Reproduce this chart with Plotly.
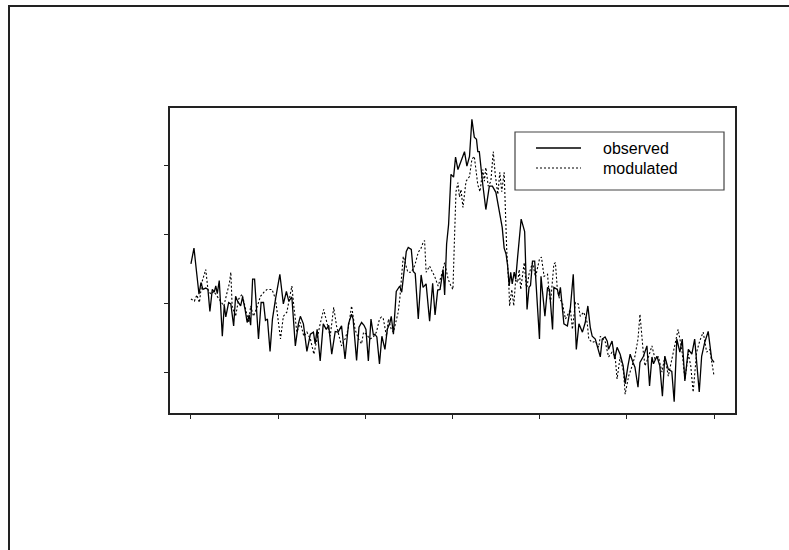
import plotly.graph_objects as go

# ---- data ----
x_obs = [0.0, 1.4, 2.7, 3.7, 4.6, 5.5, 6.8, 7.8, 8.7, 9.8, 10.7, 11.4, 12.1, 13.0, 14.4, 15.3, 16.0, 17.3, 18.3, 19.6,
         20.5, 21.4, 22.8, 23.7, 24.9, 25.8, 26.7, 27.4, 28.3, 29.2, 29.9, 31.0, 32.2, 33.3, 34.2, 35.1, 36.3, 37.4, 38.8, 39.7,
         40.8, 42.4, 43.8, 44.9, 46.3, 47.9, 49.3, 50.2, 51.6, 53.2, 54.8, 56.2, 57.0, 57.9, 59.3, 60.7, 62.1, 63.2, 64.6, 66.2,
         67.5, 69.1, 70.7, 72.3, 73.7, 74.4, 76.0, 77.1, 78.3, 79.4, 80.3, 81.4, 82.6, 83.7, 84.4, 85.3, 86.5, 87.6, 89.0, 90.1,
         91.3, 91.9, 92.9, 94.2, 95.8, 96.7, 97.6, 98.8, 99.7, 101.1, 102.0, 102.9, 104.3, 105.6, 106.5, 107.9, 109.5, 110.9, 112.0, 113.2,
         114.3, 115.7, 116.4, 117.3, 118.2, 119.3, 120.5, 121.4, 122.5, 123.9, 125.5, 126.6, 127.8, 128.9, 130.0, 131.0, 131.6, 132.3, 133.2, 133.9,
         135.3, 136.9, 138.3, 139.9, 141.5, 142.8, 143.7, 144.6, 145.3, 146.0, 146.7, 147.4, 148.3, 149.0, 149.9, 150.8, 151.5, 152.4, 153.1, 154.2,
         155.1, 155.8, 156.7, 157.7, 158.3, 159.0, 159.9, 160.6, 162.4, 163.6, 164.5, 165.9, 166.5, 168.1, 168.8, 169.5, 171.1, 172.7, 174.1, 175.4,
         176.8, 178.0, 179.6, 180.9, 182.1, 183.2, 184.1, 185.5, 186.4, 187.8, 188.7, 190.0, 191.0, 191.6, 193.2, 194.4, 195.5, 196.9, 198.3, 199.2,
         200.5, 201.5, 202.8, 203.7, 205.1, 206.0, 207.6, 209.2, 210.4, 211.5, 212.2, 213.8, 215.1, 216.3, 217.4, 219.0, 220.6, 221.7, 222.9, 224.3,
         225.4, 226.6, 228.2, 229.8, 231.1, 233.2, 234.3, 235.7, 237.3, 238.9, 240.0]
observed = [25.7, 28.0, 24.2, 21.3, 23.0, 22.0, 22.2, 22.0, 18.8, 22.0, 21.6, 22.5, 21.4, 23.3, 15.2, 19.7, 18.0, 20.1, 19.9, 16.7,
            21.0, 20.3, 19.6, 20.9, 19.0, 17.2, 18.3, 16.8, 23.5, 23.5, 20.1, 14.8, 20.1, 20.1, 17.5, 17.7, 13.0, 17.7, 20.6, 22.0,
            24.2, 19.9, 21.7, 20.3, 20.9, 13.8, 17.0, 18.1, 17.0, 13.0, 15.5, 15.8, 14.1, 16.2, 11.6, 17.0, 16.2, 16.8, 12.6, 15.9,
            15.8, 16.7, 11.9, 17.0, 18.4, 17.7, 11.7, 16.5, 17.2, 16.8, 16.2, 11.6, 17.7, 15.4, 15.5, 15.1, 11.2, 15.2, 13.3, 16.2,
            17.2, 18.1, 15.5, 21.7, 22.5, 21.6, 24.2, 27.5, 28.1, 27.8, 24.6, 24.3, 17.7, 24.1, 22.3, 22.8, 17.4, 22.9, 18.3, 21.9,
            22.0, 24.9, 21.2, 28.6, 31.4, 38.7, 38.3, 41.2, 39.4, 40.6, 42.0, 39.9, 41.3, 46.7, 44.1, 43.8, 42.0, 42.0, 39.1, 37.2,
            33.6, 37.0, 37.0, 36.1, 33.3, 31.0, 28.0, 27.1, 25.4, 22.5, 24.5, 22.8, 24.5, 23.5, 26.8, 29.7, 32.2, 31.2, 30.4, 19.1,
            22.3, 22.6, 26.1, 26.1, 22.5, 20.1, 14.8, 23.9, 18.1, 22.3, 22.0, 16.2, 22.3, 22.0, 21.0, 22.3, 17.0, 16.7, 19.4, 24.2,
            13.3, 17.0, 15.8, 17.2, 19.6, 16.5, 15.2, 14.8, 13.8, 12.2, 14.8, 15.1, 14.5, 13.3, 14.5, 11.9, 13.6, 12.6, 10.9, 8.3,
            10.9, 12.6, 11.4, 10.7, 7.8, 11.4, 12.3, 13.8, 8.0, 12.2, 11.2, 12.3, 10.9, 6.5, 12.3, 10.4, 10.1, 5.7, 14.8, 12.9,
            14.8, 8.7, 13.3, 12.6, 14.8, 7.1, 12.3, 14.3, 15.9, 11.9, 11.4]

x_mod = [0.0, 1.6, 2.7, 3.9, 5.0, 5.9, 6.8, 7.8, 9.1, 10.5, 12.1, 13.7, 15.1, 16.7, 17.6, 18.3, 18.9, 20.5, 21.9, 23.5,
         25.1, 26.5, 27.4, 28.7, 30.3, 31.9, 33.5, 34.9, 37.2, 38.8, 41.1, 42.4, 44.0, 45.6, 46.3, 47.2, 48.6, 50.2, 51.8, 53.2,
         54.8, 56.4, 57.7, 59.3, 60.9, 62.3, 63.9, 65.5, 66.8, 69.1, 70.7, 72.1, 73.7, 75.3, 76.9, 78.3, 79.2, 80.5, 82.1, 83.7,
         85.1, 86.5, 87.4, 88.3, 89.7, 90.6, 91.9, 92.9, 94.2, 95.1, 95.8, 96.5, 97.4, 98.1, 99.5, 101.1, 102.7, 104.3, 105.6, 106.5,
         107.2, 107.9, 109.5, 110.2, 111.8, 113.4, 114.8, 116.4, 118.0, 119.3, 120.2, 120.9, 121.6, 122.5, 123.2, 123.9, 124.8, 126.2, 127.8, 128.9,
         130.0, 131.6, 132.6, 133.9, 134.6, 135.3, 136.4, 137.6, 138.7, 139.6, 140.8, 141.7, 142.6, 143.7, 144.9, 145.8, 146.2, 147.2, 148.1, 149.0,
         149.9, 150.6, 151.3, 151.9, 152.9, 154.0, 155.1, 156.7, 158.1, 159.9, 160.8, 162.0, 163.6, 164.3, 165.0, 166.5, 167.2, 168.1, 169.1, 170.4,
         171.8, 174.1, 175.0, 176.4, 177.7, 178.6, 180.2, 181.8, 182.5, 184.1, 185.5, 187.1, 187.8, 188.9, 190.0, 191.6, 193.2, 194.6, 195.5, 196.9,
         198.5, 199.2, 200.8, 202.4, 203.7, 205.1, 206.0, 207.4, 208.3, 209.9, 211.5, 212.9, 214.5, 216.1, 217.4, 219.0, 220.6, 221.9, 223.5, 225.2,
         226.6, 228.2, 229.3, 230.4, 232.0, 233.4, 235.0, 236.6, 238.0, 240.0]
modulated = [20.6, 20.3, 21.2, 20.1, 23.0, 23.8, 24.9, 22.0, 21.3, 21.7, 20.9, 20.3, 19.6, 21.7, 22.8, 24.5, 19.6, 18.1, 20.6, 21.3,
             19.1, 17.2, 19.6, 18.1, 19.4, 21.0, 21.6, 22.0, 22.0, 20.6, 14.8, 18.1, 18.7, 21.0, 22.5, 19.6, 15.8, 17.2, 15.2, 15.8,
             14.8, 12.6, 14.8, 17.0, 19.1, 17.2, 15.2, 19.4, 16.7, 13.8, 14.8, 16.2, 19.6, 16.2, 14.8, 14.1, 15.8, 15.5, 14.8, 15.1,
             15.8, 17.7, 18.0, 17.7, 15.2, 17.7, 16.2, 15.8, 17.7, 18.7, 20.6, 23.6, 26.8, 26.1, 24.5, 24.5, 25.5, 27.4, 28.0, 28.8,
             29.1, 24.5, 25.4, 24.9, 23.9, 22.5, 23.9, 25.9, 23.5, 22.5, 22.0, 29.3, 36.2, 37.5, 35.4, 36.5, 33.9, 37.7, 38.4, 40.9,
             41.3, 37.2, 36.2, 39.4, 37.7, 39.7, 37.0, 37.7, 42.0, 38.7, 35.8, 39.0, 36.2, 39.0, 27.5, 23.0, 19.6, 22.0, 19.6, 23.5,
             23.0, 24.9, 22.0, 23.5, 25.9, 22.0, 24.2, 25.9, 23.8, 26.4, 26.7, 23.9, 24.2, 21.6, 20.1, 25.7, 25.9, 22.0, 20.6, 20.1,
             17.7, 19.1, 16.2, 20.1, 19.9, 18.1, 18.7, 17.2, 14.8, 14.3, 14.5, 13.6, 15.2, 14.8, 14.5, 12.2, 12.9, 12.3, 9.0, 12.2,
             10.0, 6.8, 9.4, 10.9, 12.3, 14.8, 18.4, 13.3, 10.9, 12.2, 13.8, 11.9, 12.2, 10.0, 12.3, 9.4, 11.9, 14.1, 16.2, 13.3,
             9.0, 12.6, 10.9, 7.1, 12.9, 14.5, 15.8, 12.9, 13.3, 9.4]

x_ticks = [0, 40, 80, 120, 160, 200, 240]
y_ticks = [10, 20, 30, 40]
legend_labels = ["observed", "modulated"]

# R-style axis ranges: data range extended by 4 % on each side
def r_range(vals):
    lo, hi = min(vals), max(vals)
    pad = 0.04 * (hi - lo)
    return [lo - pad, hi + pad]

xr = r_range(x_obs + x_mod)
yr = r_range(observed + modulated)

fig = go.Figure()
fig.add_trace(go.Scatter(x=x_obs, y=observed, mode="lines", name=legend_labels[0],
                         line=dict(color="black", width=1.3)))
fig.add_trace(go.Scatter(x=x_mod, y=modulated, mode="lines", name=legend_labels[1],
                         line=dict(color="black", width=1.1, dash="2px,2px")))

W, H = 789, 550
L, R, T, B = 170, 54, 108, 137
pw, ph = W - L - R, H - T - B

def px(x):
    return (x - L) / pw

def py(y):
    return (H - B - y) / ph

shapes = [
    # outer frame (partly outside the page, as in the reference)
    dict(type="rect", xref="paper", yref="paper", x0=px(9), x1=px(900), y0=py(650), y1=py(6),
         line=dict(color="#222", width=2), layer="below"),
    # legend box
    dict(type="rect", xref="paper", yref="paper", x0=px(515), x1=px(724), y0=py(190), y1=py(132),
         line=dict(color="#444", width=1.2), fillcolor="white"),
    dict(type="line", xref="paper", yref="paper", x0=px(536), x1=px(581), y0=py(148), y1=py(148),
         line=dict(color="black", width=1.3)),
    dict(type="line", xref="paper", yref="paper", x0=px(536), x1=px(581), y0=py(168), y1=py(168),
         line=dict(color="black", width=1.1, dash="2px,2px")),
]
annotations = [
    dict(xref="paper", yref="paper", x=px(601), y=py(148), text=legend_labels[0], showarrow=False,
         xanchor="left", yanchor="middle", font=dict(size=16, color="black", family="Liberation Sans, Arial")),
    dict(xref="paper", yref="paper", x=px(601), y=py(168), text=legend_labels[1], showarrow=False,
         xanchor="left", yanchor="middle", font=dict(size=16, color="black", family="Liberation Sans, Arial")),
]

axis_common = dict(showgrid=False, zeroline=False, showline=True, mirror=True,
                   linecolor="#222", linewidth=1.5, ticks="outside", ticklen=4,
                   tickwidth=1, tickcolor="#222", showticklabels=False)

fig.update_layout(
    width=W, height=H,
    margin=dict(l=L, r=R, t=T, b=B, pad=0),
    paper_bgcolor="white", plot_bgcolor="white",
    showlegend=False,
    xaxis=dict(range=xr, tickvals=x_ticks, **axis_common),
    yaxis=dict(range=yr, tickvals=y_ticks, **axis_common),
    shapes=shapes, annotations=annotations,
)

fig.write_html("out.html")
